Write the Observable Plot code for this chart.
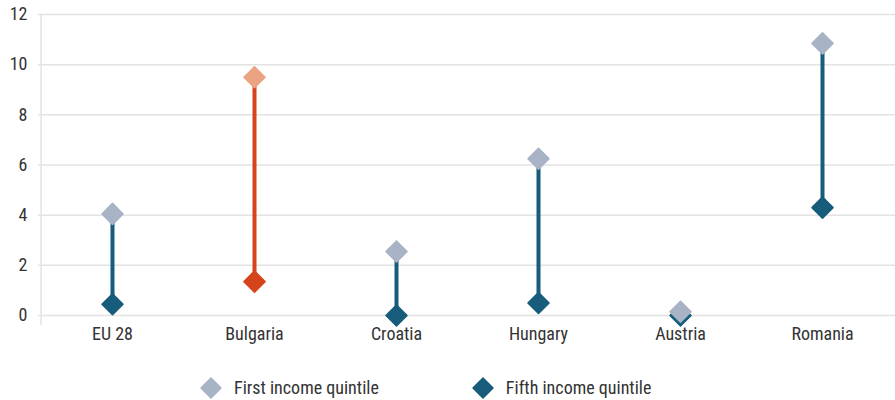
<!DOCTYPE html>
<html>
<head>
<meta charset="utf-8">
<script src="https://cdn.jsdelivr.net/npm/d3@7"></script>
<script src="https://cdn.jsdelivr.net/npm/@observablehq/plot@0.6"></script>
<style>
  body { margin: 0; background: #fff; font-family: "Roboto Condensed", "Liberation Sans Narrow", "DejaVu Sans Condensed", "Roboto", sans-serif; }
  #chart svg { display: block; }
  #legend { display: flex; justify-content: flex-start; align-items: center; height: 45px; padding-top: 10px; padding-left: 199px; font-size: 18px; color: #333; }
  .item { display: flex; align-items: center; margin-right: 92px; }
  .item svg { margin-right: 11px; }
</style>
</head>
<body>
<div id="chart"></div>
<div id="legend"></div>
<script>
const countries = ["EU 28", "Bulgaria", "Croatia", "Hungary", "Austria", "Romania"];
const firstQuintile = [4.05, 9.5, 2.55, 6.25, 0.15, 10.85];
const fifthQuintile = [0.45, 1.35, 0.0, 0.5, 0.0, 4.3];
const yTicks = [0, 2, 4, 6, 8, 10, 12];
const highlight = "Bulgaria";

const colFirst = "#a8b3c5", colFifth = "#175c7b";
const colFirstHi = "#eba381", colFifthHi = "#d5441a";

const data = countries.map((c, i) => ({country: c, first: firstQuintile[i], fifth: fifthQuintile[i], hi: c === highlight}));

const font = '"Roboto Condensed", "Liberation Sans Narrow", "DejaVu Sans Condensed", "Roboto", sans-serif';
const W = 895, ML = 38, MR = 0;
const step = (W - ML - MR) / countries.length;

const chart = Plot.plot({
  width: W,
  height: 355,
  marginLeft: ML,
  marginRight: MR,
  marginTop: 14,
  marginBottom: 40,
  style: {fontFamily: font, fontSize: "18px", color: "#333", background: "#fff"},
  x: {type: "point", domain: countries, padding: 0.5, label: null, tickSize: 0, tickPadding: 12},
  y: {domain: [0, 12], ticks: yTicks, label: null, tickSize: 0, tickPadding: 11},
  marks: [
    Plot.gridY(yTicks, {stroke: "#e3e3e3", strokeOpacity: 1, strokeWidth: 1.5}),
    Plot.ruleX([countries[0]], {dx: -step / 2, y1: 12, y2: -0.4, stroke: "#e3e3e3", strokeWidth: 1.5}),
    Plot.ruleX(data, {x: "country", y1: "fifth", y2: "first", stroke: d => d.hi ? colFifthHi : colFifth, strokeWidth: 4}),
    Plot.dot(data, {x: "country", y: "fifth", symbol: "diamond2", r: 9.5, fill: d => d.hi ? colFifthHi : colFifth, stroke: d => d.hi ? colFifthHi : colFifth, strokeWidth: 1.5, strokeLinejoin: "round"}),
    Plot.dot(data, {x: "country", y: "first", symbol: "diamond2", r: 9.5, fill: d => d.hi ? colFirstHi : colFirst, stroke: d => d.hi ? colFirstHi : colFirst, strokeWidth: 1.5, strokeLinejoin: "round"})
  ]
});
document.getElementById("chart").appendChild(chart);

const legendItems = [["First income quintile", colFirst], ["Fifth income quintile", colFifth]];
const legend = document.getElementById("legend");
legendItems.forEach(([label, color]) => {
  const div = document.createElement("div");
  div.className = "item";
  div.innerHTML = `<svg width="24" height="24" viewBox="-12 -12 24 24"><path d="M0,-10L10,0L0,10L-10,0Z" fill="${color}" stroke="${color}" stroke-width="1.5" stroke-linejoin="round"/></svg><span>${label}</span>`;
  legend.appendChild(div);
});
</script>
</body>
</html>
